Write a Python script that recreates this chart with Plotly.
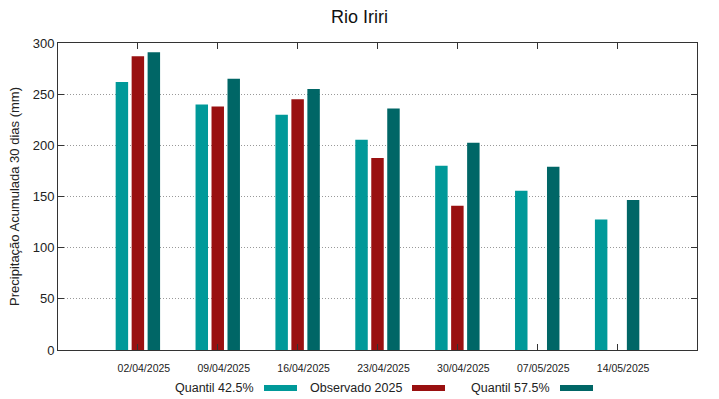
import plotly.graph_objects as go

categories = ["02/04/2025", "09/04/2025", "16/04/2025", "23/04/2025",
              "30/04/2025", "07/05/2025", "14/05/2025"]
quantil_425 = [262, 240, 230, 205.5, 180, 155.5, 127.5]
observado_2025 = [287, 238, 245, 187.5, 141, None, None]
quantil_575 = [291, 265, 255, 236, 202.5, 179, 146.5]

series_names = ["Quantil 42.5%", "Observado 2025", "Quantil 57.5%"]
series_colors = ["#009999", "#991010", "#006666"]
series_values = [quantil_425, observado_2025, quantil_575]

FONT = "Liberation Sans, Arial, sans-serif"

fig = go.Figure()
for name, color, vals in zip(series_names, series_colors, series_values):
    fig.add_trace(go.Bar(x=categories, y=vals, name=name, marker_color=color,
                         marker_line_width=0, showlegend=False))

fig.update_layout(
    width=719, height=399,
    margin=dict(l=58, r=22, t=43, b=49),
    paper_bgcolor="white", plot_bgcolor="white",
    barmode="group", bargap=0.4, bargroupgap=0.22,
    font=dict(family=FONT, color="#222222"),
    title=dict(text="Rio Iriri", x=0.5, xanchor="center", y=0.957, yanchor="middle",
               font=dict(size=18, family=FONT, color="#111111")),
)
fig.update_xaxes(
    type="category", range=[-1, 7],
    showline=True, linecolor="#333333", linewidth=1, mirror="ticks",
    ticks="inside", ticklen=6, tickcolor="#333333",
    tickfont=dict(size=10.5, family=FONT, color="#222222"),
    showgrid=False, ticklabelstandoff=8, ticklabelshift=6,
)
fig.update_yaxes(
    range=[0, 300], tickvals=[0, 50, 100, 150, 200, 250, 300],
    showline=True, linecolor="#333333", linewidth=1, mirror="ticks",
    ticks="inside", ticklen=6, tickcolor="#333333",
    tickfont=dict(size=13, family=FONT, color="#222222"),
    showgrid=True, gridcolor="#999999", griddash="1px,2px", gridwidth=1,
    zeroline=False,
    title=dict(text="Precipitação Acumulada 30 dias (mm)", standoff=10,
               font=dict(size=13, family=FONT, color="#222222")),
)

# gnuplot-style legend: text followed by colour sample
legend_text_right = [256, 404, 552]
legend_sample = [(264, 297), (412, 445), (560, 593)]
W, H = 719, 399
for name, color, xr, (s0, s1) in zip(series_names, series_colors, legend_text_right, legend_sample):
    fig.add_annotation(text=name, xref="paper", yref="paper",
                       x=(xr - 58) / (W - 58 - 22), y=-(388 - 350) / (350 - 43),
                       xanchor="right", yanchor="middle", showarrow=False,
                       font=dict(size=12.5, family=FONT, color="#222222"))
    fig.add_shape(type="rect", xref="paper", yref="paper",
                  x0=(s0 - 58) / (W - 80), x1=(s1 - 58) / (W - 80),
                  y0=-(391 - 350) / 307, y1=-(385 - 350) / 307,
                  fillcolor=color, line_width=0)

fig.write_html("out.html", config={"displayModeBar": False},
               post_script="document.body.style.margin='0';document.body.style.overflow='hidden';")
